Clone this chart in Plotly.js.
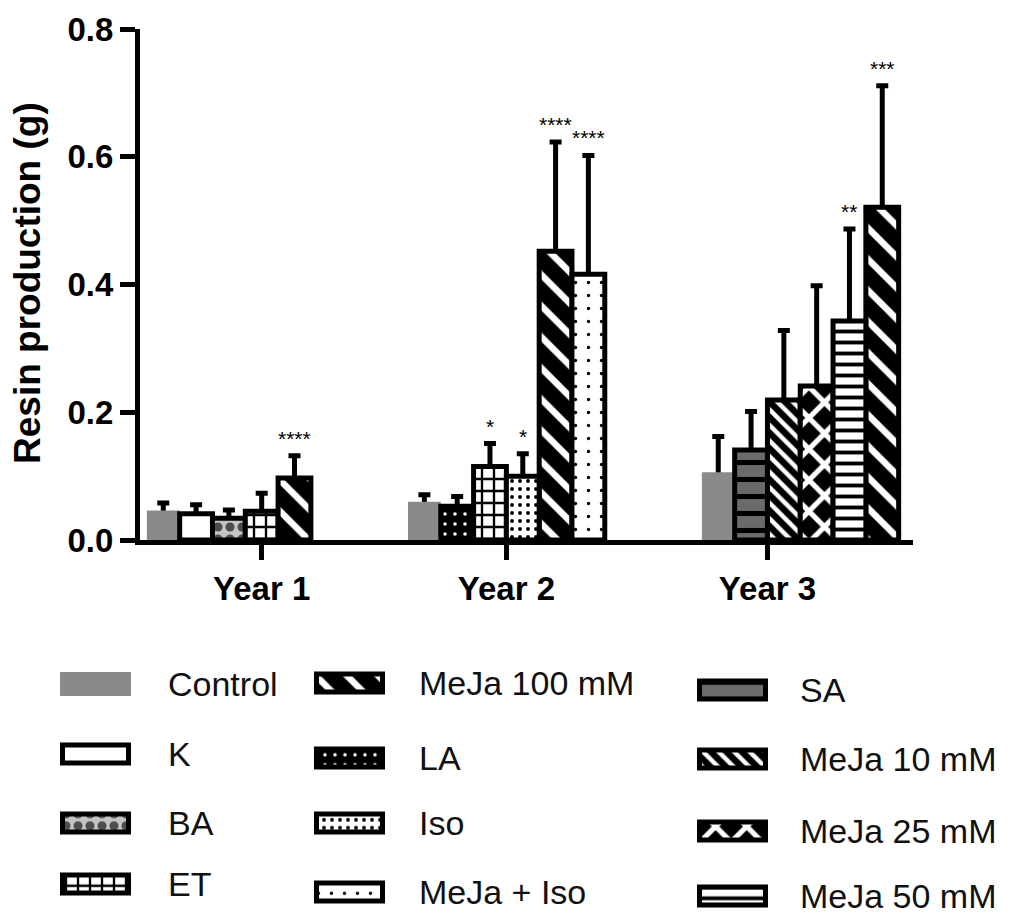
<!DOCTYPE html>
<html><head><meta charset="utf-8">
<script src="https://cdn.plot.ly/plotly-3.0.1.min.js"></script>
<style>html,body{margin:0;padding:0;background:#fff}#chart{width:1019px;height:914px}</style>
</head><body><div id="chart"></div>
<script>
// ---------------- data ----------------
const years = ['Year 1', 'Year 2', 'Year 3'];

const year1Treatments = ['Control', 'K', 'BA', 'ET', 'MeJa 100 mM'];
const year1Means  = [0.046, 0.041, 0.034, 0.045, 0.097];
const year1Errors = [0.012, 0.014, 0.013, 0.028, 0.035];
const year1Signif = ['', '', '', '', '****'];

const year2Treatments = ['Control', 'LA', 'ET', 'Iso', 'MeJa 100 mM', 'MeJa + Iso'];
const year2Means  = [0.060, 0.053, 0.115, 0.100, 0.452, 0.416];
const year2Errors = [0.011, 0.015, 0.036, 0.035, 0.171, 0.186];
const year2Signif = ['', '', '*', '*', '****', '****'];

const year3Treatments = ['Control', 'SA', 'MeJa 10 mM', 'MeJa 25 mM', 'MeJa 50 mM', 'MeJa 100 mM'];
const year3Means  = [0.106, 0.141, 0.219, 0.241, 0.343, 0.521];
const year3Errors = [0.056, 0.060, 0.109, 0.157, 0.144, 0.190];
const year3Signif = ['', '', '', '', '**', '***'];

const legendColumns = [
  ['Control', 'K', 'BA', 'ET'],
  ['MeJa 100 mM', 'LA', 'Iso', 'MeJa + Iso'],
  ['SA', 'MeJa 10 mM', 'MeJa 25 mM', 'MeJa 50 mM']
];
const yTickVals = [0, 0.2, 0.4, 0.6, 0.8];
const yAxisTitle = 'Resin production (g)';

// ---------------- styles ----------------
const styles = {
  'Control':     {color:'#8a8a8a', line:0},
  'K':           {color:'#ffffff'},
  'BA':          {color:'#c4c4c4', pattern:{shape:'.', fgcolor:'#4d4d4d', bgcolor:'#c4c4c4', size:12, solidity:0.45}},
  'ET':          {color:'#ffffff', pattern:{shape:'+', fgcolor:'#000000', bgcolor:'#ffffff', size:12, solidity:0.35}},
  'MeJa 100 mM': {color:'#000000', pattern:{shape:'\\', fgcolor:'#ffffff', bgcolor:'#000000', size:22, solidity:0.3}},
  'LA':          {color:'#000000', pattern:{shape:'.', fgcolor:'#ffffff', bgcolor:'#000000', size:10, solidity:0.1}},
  'Iso':         {color:'#ffffff', pattern:{shape:'.', fgcolor:'#000000', bgcolor:'#ffffff', size:8, solidity:0.18}},
  'MeJa + Iso':  {color:'#ffffff', pattern:{shape:'.', fgcolor:'#000000', bgcolor:'#ffffff', size:13, solidity:0.05}},
  'SA':          {color:'#6b6b6b', pattern:{shape:'-', fgcolor:'#000000', bgcolor:'#6b6b6b', size:17, solidity:0.3}},
  'MeJa 10 mM':  {color:'#000000', pattern:{shape:'\\', fgcolor:'#ffffff', bgcolor:'#000000', size:11, solidity:0.4}},
  'MeJa 25 mM':  {color:'#000000', pattern:{shape:'x', fgcolor:'#ffffff', bgcolor:'#000000', size:22, solidity:0.42}},
  'MeJa 50 mM':  {color:'#ffffff', pattern:{shape:'-', fgcolor:'#000000', bgcolor:'#ffffff', size:11, solidity:0.35}}
};
const FONT = 'Liberation Sans, Arial, Helvetica, sans-serif';

// ---------------- layout constants ----------------
const W = 1019, H = 914;
const plotL = 140, plotR = 913, plotT = 29, plotB = 540;
const slotPx = 32.8;
const xMax = (plotR - plotL) / slotPx;
const groupStart = [0.21, 8.17, 17.13];
const tickOffset = [3.5, 3.0, 2.0];

const groups = [
  {t: year1Treatments, m: year1Means, e: year1Errors, s: year1Signif},
  {t: year2Treatments, m: year2Means, e: year2Errors, s: year2Signif},
  {t: year3Treatments, m: year3Means, e: year3Errors, s: year3Signif}
];

// collect per-treatment points
const perT = {};
const annotations = [];
groups.forEach((g, gi) => {
  g.t.forEach((name, i) => {
    const xc = groupStart[gi] + i + 0.5;
    if (!perT[name]) perT[name] = {x: [], y: [], e: []};
    perT[name].x.push(xc); perT[name].y.push(g.m[i]); perT[name].e.push(g.e[i]);
    if (g.s[i]) {
      annotations.push({x: xc, y: g.m[i] + g.e[i], xref: 'x', yref: 'y', text: g.s[i],
        showarrow: false, yanchor: 'bottom', yshift: 5, borderpad: 0,
        font: {family: FONT, size: 21, color: '#000'}});
    }
  });
});

const order = legendColumns.flat();
function markerFor(name, lineW) {
  const st = styles[name];
  const mk = {color: st.color, line: {color: '#000', width: st.line === 0 ? 0 : lineW}};
  if (st.pattern) mk.pattern = Object.assign({fillmode: 'replace'}, st.pattern);
  return mk;
}

const traces = [];
// error bars first (drawn behind bars)
order.forEach(name => {
  const d = perT[name]; if (!d) return;
  traces.push({type: 'bar', x: d.x, y: d.y, width: 1, showlegend: false, hoverinfo: 'skip',
    marker: {color: 'rgba(0,0,0,0)', line: {width: 0}},
    error_y: {type: 'data', array: d.e, symmetric: true, color: '#000', thickness: 5, width: 6}});
});
// bars
order.forEach(name => {
  const d = perT[name]; if (!d) return;
  traces.push({type: 'bar', name: name, x: d.x, y: d.y, width: 1, showlegend: false,
    marker: markerFor(name, 5)});
});

// legend drawn as bars on a pixel-unit helper subplot
const swatchLeft = [60, 314, 697];
const textLeft = [166, 417, 798];
const rowY = [[684, 754, 823, 884], [683, 758, 823, 892], [690, 759, 831, 896]];
const legTop = H * 0.3;
legendColumns.forEach((col, ci) => {
  col.forEach((name, ri) => {
    const noLine = styles[name].line === 0;
    traces.push({type: 'bar', orientation: 'h', xaxis: 'x2', yaxis: 'y2', showlegend: false, hoverinfo: 'skip',
      x: [noLine ? 71 : 66], base: [noLine ? swatchLeft[ci] : swatchLeft[ci] + 2.5], y: [rowY[ci][ri]],
      width: noLine ? 24 : 18, marker: markerFor(name, 5)});
    annotations.push({x: textLeft[ci], y: rowY[ci][ri], xref: 'x2', yref: 'y2', text: name,
      showarrow: false, xanchor: 'left', yanchor: 'middle',
      font: {family: FONT, size: 34, color: '#111'}});
  });
});

annotations.push({x: 27 / W, y: (H - 283) / H, xref: 'paper', yref: 'paper', text: yAxisTitle,
  textangle: -90, showarrow: false, xanchor: 'center', yanchor: 'middle',
  font: {family: FONT, size: 37, color: '#000', weight: 'bold'}});

const layout = {
  width: W, height: H,
  margin: {l: 0, r: 0, t: 0, b: 0},
  paper_bgcolor: '#fff', plot_bgcolor: 'rgba(0,0,0,0)',
  barmode: 'overlay', showlegend: false,
  font: {family: FONT, color: '#000'},
  xaxis: {domain: [plotL / W, plotR / W], range: [0, xMax],
    tickmode: 'array', tickvals: groupStart.map((s, i) => s + tickOffset[i]), ticktext: years,
    ticks: 'outside', ticklen: 15, tickwidth: 5, tickcolor: '#000',
    showline: true, linewidth: 5, linecolor: '#000', showgrid: false, zeroline: false,
    tickfont: {family: FONT, size: 33, color: '#000', weight: 'bold'}, fixedrange: true},
  yaxis: {domain: [(H - plotB) / H, (H - plotT) / H], range: [0, 0.8],
    tickmode: 'array', tickvals: yTickVals, tickformat: '.1f',
    ticks: 'outside', ticklen: 15, tickwidth: 5, tickcolor: '#000',
    showline: true, linewidth: 5, linecolor: '#000', showgrid: false, zeroline: false,
    tickfont: {family: FONT, size: 33, color: '#000', weight: 'bold'}, fixedrange: true},
  xaxis2: {domain: [0, 1], range: [0, W], anchor: 'y2', visible: false, fixedrange: true},
  yaxis2: {domain: [0, 0.3], range: [H, H - legTop], anchor: 'x2', visible: false, fixedrange: true},
  annotations: annotations
};

Plotly.newPlot('chart', traces, layout, {staticPlot: true});
</script>
</body></html>
